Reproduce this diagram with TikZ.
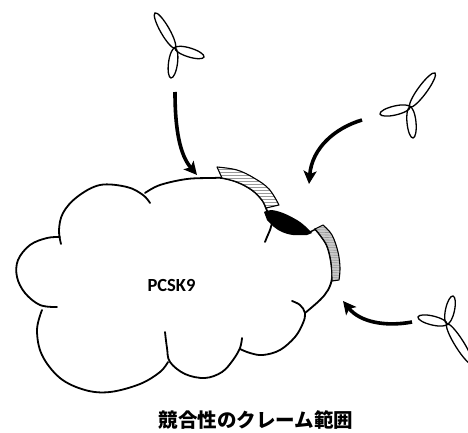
\documentclass[tikz,border=0pt]{standalone}
\usepackage{fontspec}
\newfontfamily\labfont{Carlito}
\newfontfamily\cjkfont{Noto Sans CJK JP}
\usetikzlibrary{arrows.meta,calc,shapes.geometric}

% one ligand petal: an ellipse running from the hub (#1) to the tip (#2)
\newcommand\ligpetal[2]{%
  \path let \p1=($(#2)-(#1)$), \n1={veclen(\x1,\y1)} in
    (#1) -- (#2) node[midway,sloped,petal,minimum width=\n1]{};}

\begin{document}
\begin{tikzpicture}[x=1pt,y=-1pt,
  outline/.style={line width=1.8pt, line cap=round, line join=round},
  petal/.style={draw, ellipse, line width=1.3pt, inner sep=0pt, minimum height=9pt},
  bindarrow/.style={line width=3.6pt, -{Stealth[length=13pt,width=13pt,inset=3pt]}},
  bandedge/.style={draw, line width=1.1pt, line join=round}]
\useasboundingbox (0,0) rectangle (468,433);
\clip (0,0) rectangle (468,433);

% ---------- cloud-shaped protein outline ----------
\draw[outline] plot[smooth,tension=0.6] coordinates
  {(61,244) (59,230) (63,213) (77,197) (100,185) (127,187) (143,195) (150,203)};
\draw[outline] plot[smooth,tension=0.6] coordinates
  {(145,193) (160,185) (187,179) (213,178) (222,178) (237,182) (252,190) (262,200) (266,208) (268,214)};
\draw[outline] plot[smooth,tension=0.6] coordinates
  {(60,237) (47,238) (30,245) (18,260) (17,277) (25,293) (40,305) (57,307)};
\draw[outline] plot[smooth,tension=0.6] coordinates
  {(42,310) (37,330) (42,355) (60,378) (85,390) (110,392) (140,384) (160,372) (168,362)};
\draw[outline] plot[smooth,tension=0.6] coordinates
  {(165,332) (167,348) (170,362) (185,374) (205,378) (222,372) (233,360) (240,348) (242,338)};
\draw[outline] plot[smooth,tension=0.6] coordinates
  {(240,349) (250,353) (263,355) (280,350) (295,337) (303,323) (305,313) (300,305) (292,301)};
\draw[outline] plot[smooth,tension=0.6] coordinates
  {(315,229) (320,235) (327,246) (331,262) (332,278) (328,290) (320,300) (305,313)};
% inner fold below the dark segment
\draw[outline] plot[smooth,tension=0.6] coordinates
  {(272,223) (270,230) (267,237) (265,242)};

% ---------- striped binding region ----------
\def\bandA{plot[smooth,tension=0.6] coordinates {(217,167) (237,170) (254,178) (269,189) (279,205)}
  -- plot[smooth,tension=0.6] coordinates {(266,208) (262,200) (252,190) (237,182) (222,178)} -- cycle}
\fill[white] \bandA;
\begin{scope}
  \clip \bandA;
  \foreach \yy in {163,166,...,212}
    \draw[gray!80, line width=0.9pt] (210,\yy) -- (285,\yy);
\end{scope}
\draw[bandedge] \bandA;

% ---------- dark binding segment ----------
\fill[black] plot[smooth,tension=0.6] coordinates
  {(264,212) (271,210) (283,213) (297,220) (305,226) (312,233)}
  -- plot[smooth,tension=0.6] coordinates
  {(307,235) (293,235) (282,232) (274,227) (267,220)} -- cycle;
\draw[line width=1.4pt] (308,233) -- (316,229);

% ---------- grey binding region ----------
\def\bandB{(315,229) -- plot[smooth,tension=0.6] coordinates {(323,225) (332,235) (338,252) (340,268) (339,280)}
  -- (332,281) -- plot[smooth,tension=0.6] coordinates {(332,279) (331,262) (327,246) (320,235) (315,229)} -- cycle}
\fill[gray!40] \bandB;
\begin{scope}
  \clip \bandB;
  \foreach \yy in {222,224.5,...,286}
    \draw[gray!85, line width=0.6pt] (310,\yy) -- (344,\yy+1);
\end{scope}
\draw[bandedge] \bandB;

% ---------- label ----------
\node[font=\labfont\bfseries\fontsize{18.5}{20}\selectfont] (pcsk) at (171.5,285) {PCSK9};
\node[font=\cjkfont\bfseries\fontsize{19.5}{22}\selectfont] (cap) at (256,420.5) {競合性のクレーム範囲};

% ---------- ligands ----------
\coordinate (la) at (175,48);
\coordinate (la1) at (155,13);
\coordinate (la2) at (204,57);
\coordinate (la3) at (171,78);
\ligpetal{la}{la1}\ligpetal{la}{la2}\ligpetal{la}{la3}

\coordinate (lb) at (410,107);
\coordinate (lb1) at (435,73);
\coordinate (lb2) at (380,114);
\coordinate (lb3) at (413,138);
\ligpetal{lb}{lb1}\ligpetal{lb}{lb2}\ligpetal{lb}{lb3}

\coordinate (lc) at (447,324);
\coordinate (lc1) at (418,317);
\coordinate (lc2) at (453,296);
\coordinate (lc3) at (472,364);
\ligpetal{lc}{lc1}\ligpetal{lc}{lc2}\ligpetal{lc}{lc3}

% ---------- binding arrows ----------
\coordinate (a1s) at (175,92);
\coordinate (a1e) at (197,175);
\coordinate (a2s) at (362,120);
\coordinate (a2e) at (309,184);
\coordinate (a3s) at (412,322);
\coordinate (a3e) at (343,301);
\draw[bindarrow] (a1s) .. controls (175,130) and (180,155) .. (a1e);
\draw[bindarrow] (a2s) .. controls (335,128) and (312,148) .. (a2e);
\draw[bindarrow] (a3s) .. controls (385,327) and (360,322) .. (a3e);
\end{tikzpicture}
\end{document}
